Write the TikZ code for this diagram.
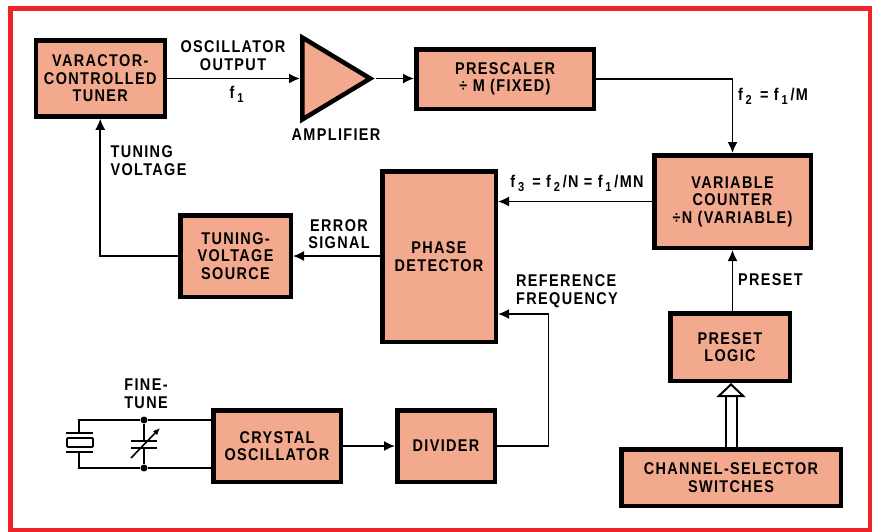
\documentclass[tikz,border=0pt]{standalone}
\usepackage{fontspec}
\setmainfont[FakeStretch=0.85,LetterSpace=8]{Liberation Sans}
\usetikzlibrary{arrows.meta,shapes.geometric}
\definecolor{blockfill}{HTML}{F2A98E}
\definecolor{frame-red}{HTML}{EE2428}
\newcommand{\lowidx}[1]{\,\raisebox{-4pt}{\fontsize{13}{13}\selectfont #1}\,}
\tikzset{
  block/.style={draw=black, fill=blockfill, line width=4.5pt, align=center, inner sep=0pt,
    font=\bfseries\fontsize{17}{17.5}\selectfont},
  signal-label/.style={inner sep=0pt, align=center, font=\bfseries\fontsize{17}{17.5}\selectfont},
  signal/.style={-{Latex[length=11pt,width=10pt]}, line width=1.6pt},
  wire/.style={line width=1.6pt},
  junction/.style={circle, fill=black, inner sep=0pt, minimum size=7pt}
}
\begin{document}
\begin{tikzpicture}[x=1pt, y=-1pt]
  \useasboundingbox (0,0) rectangle (872,531);
  % Outer frame
  \draw[frame-red, line width=4.5pt] (10.5,8.5) rectangle (870,530);

  % Blocks
  \node[block, minimum width=129pt, minimum height=76pt] (tuner) at (100.25,78.5) {VARACTOR-\\CONTROLLED\\TUNER};
  \node[block, minimum width=177.5pt, minimum height=59.5pt] (prescaler) at (505,79) {PRESCALER\\÷ M (FIXED)};
  \node[block, minimum width=156.5pt, minimum height=92.5pt] (counter) at (732.5,201.5) {VARIABLE\\COUNTER\\÷N (VARIABLE)};
  \node[block, minimum width=113.5pt, minimum height=170.5pt] (detector) at (439,256.5) {PHASE\\DETECTOR};
  \node[block, minimum width=110.5pt, minimum height=81.5pt] (source) at (235.5,256) {TUNING-\\VOLTAGE\\SOURCE};
  \node[block, minimum width=119.5pt, minimum height=67.5pt] (preset) at (730,347) {PRESET\\LOGIC};
  \node[block, minimum width=219.5pt, minimum height=56.5pt] (selector) at (731,477.5) {CHANNEL-SELECTOR\\SWITCHES};
  \node[block, minimum width=127.5pt, minimum height=71.5pt] (crystal) at (277,446) {CRYSTAL\\OSCILLATOR};
  \node[block, minimum width=97.5pt, minimum height=71.5pt] (divider) at (446,446) {DIVIDER};
  \node[block, isosceles triangle, isosceles triangle stretches, anchor=lower side,
    minimum width=82pt, minimum height=68pt] (amp) at (300,78.5) {};

  % Signal path
  \draw[signal] (tuner.east) -- (amp.lower side);
  \draw[signal] (amp.apex) -- (prescaler.west |- amp.apex);
  \draw[signal] (prescaler.east) -- (counter.north |- prescaler.east) -- (counter.north);
  \draw[signal] (counter.west) -- (detector.east |- counter.west);
  \draw[signal] (detector.west |- source.east) -- (source.east);
  \draw[signal] (source.west) -- (tuner.south |- source.west) -- (tuner.south);
  \draw[signal] (crystal.east) -- (divider.west);
  \draw[signal] (divider.east) -- (548.5,446) -- (548.5,314) -- (detector.east |- 548.5,314);
  \draw[signal] (counter.south |- preset.north) -- (counter.south);
  \draw[draw=black, double=white, double distance=9pt, line width=2pt, -{Triangle[open, fill=white, length=14pt, width=29pt, line width=2pt]}] (selector.north) -- (preset.south -| selector.north);

  % Crystal and fine tune network
  \node[junction] (jtop) at (144,420) {};
  \node[junction] (jbot) at (144,468) {};
  \draw[wire] (crystal.west |- jtop) -- (jtop) -- (79,420) -- (79,433);
  \draw[wire] (crystal.west |- jbot) -- (jbot) -- (79,468) -- (79,452);
  \draw[wire] (66,433) -- (93,433);
  \draw[wire] (66,452) -- (93,452);
  \draw[wire, line width=1.8pt, rounded corners=1pt] (67,438) rectangle (93,447);
  \draw[wire] (jtop) -- (144,441);
  \draw[wire] (jbot) -- (144,448);
  \draw[wire] (131,441) -- (157,441);
  \draw[wire] (131,448) -- (157,448);
  \draw[signal, -{Latex[length=7pt,width=6pt]}] (131,458) -- (160,428);

  % Labels
  \node[signal-label] (lblosc) at (233,55.5) {OSCILLATOR\\OUTPUT};
  \node[signal-label] (lblf1) at (238,94) {f\lowidx{1}};
  \node[signal-label] (lblamp) at (336,135) {AMPLIFIER};
  \node[signal-label] (lblf2) at (773,96) {f\lowidx{2} = f\lowidx{1}/M};
  \node[signal-label] (lblf3) at (577,183) {f\lowidx{3} = f\lowidx{2}/N = f\lowidx{1}/MN};
  \node[signal-label, align=left] (lbltune) at (148.5,160.5) {TUNING\\VOLTAGE};
  \node[signal-label] (lblerr) at (339,234) {ERROR\\SIGNAL};
  \node[signal-label, align=left] (lblref) at (567,291) {REFERENCE\\FREQUENCY};
  \node[signal-label] (lblpreset) at (770.5,280) {PRESET};
  \node[signal-label] (lblfine) at (146,393.5) {FINE-\\TUNE};
\end{tikzpicture}
\end{document}
